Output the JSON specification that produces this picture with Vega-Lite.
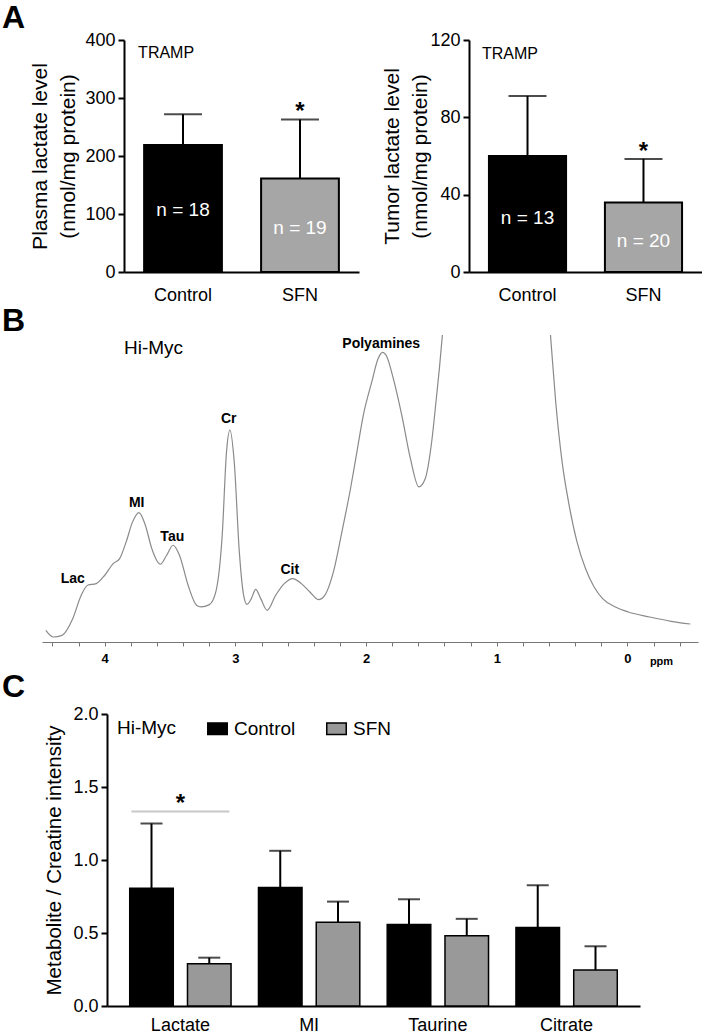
{
"$schema":"https://vega.github.io/schema/vega-lite/v6.json",
"background":"white",
"padding":{"left":2,"top":2,"right":0,"bottom":0},
"config":{
 "font":"Liberation Sans",
 "view":{"stroke":null},
 "axis":{"labelFont":"Liberation Sans","titleFont":"Liberation Sans","labelColor":"black","titleColor":"black","domainColor":"black","tickColor":"black","grid":false,"titleFontWeight":"normal"},
 "legend":{"labelFont":"Liberation Sans","titleFont":"Liberation Sans","labelColor":"black","titleColor":"black"},
 "title":{"font":"Liberation Sans","color":"black"}
},
"spacing":5,
"resolve":{"scale":{"color":"independent"},"legend":{"color":"independent"}},
"vconcat":[
 {"spacing":1,
  "resolve":{"scale":{"color":"independent"},"legend":{"color":"independent"}},
  "vconcat":[
  {"spacing":0,"bounds":"flush",
   "resolve":{"scale":{"color":"independent"},"legend":{"color":"independent"}},
   "hconcat":[
   {"width":82,"height":1,"data":{"values":[{}]},"mark":{"type":"point","opacity":0}},
   {"spacing":110,"bounds":"flush","hconcat":[
   {
    "width":235,"height":232,
    "title":{"text":"A","anchor":"start","frame":"group","dx":-122,"fontSize":32,"fontWeight":"bold","baseline":"alphabetic","offset":-29},
    "data":{"values":[
     {"group":"Control","value":219,"hi":272,"n":"n = 18","ny":107,"star":""},
     {"group":"SFN","value":161,"hi":263,"n":"n = 19","ny":76,"star":"*"}
    ]},
    "encoding":{"x":{"field":"group","type":"nominal","scale":{"domain":["Control","SFN"],"paddingInner":0.335,"paddingOuter":0.172},
      "axis":{"title":null,"labelAngle":0,"labelFontSize":18,"ticks":false,"tickSize":0,"domainWidth":2,"labelPadding":14}}},
    "layer":[
     {"mark":{"type":"bar","stroke":"black","strokeWidth":2},
      "encoding":{"y":{"field":"value","type":"quantitative","scale":{"domain":[0,400],"nice":false},
        "axis":{"title":["Plasma lactate level","(nmol/mg protein)"],"titleFontSize":21,"titleLineHeight":28,"titlePadding":6,"values":[0,100,200,300,400],"labelFontSize":18,"tickSize":6,"tickWidth":2,"domainWidth":2,"labelPadding":3}},
       "color":{"field":"group","type":"nominal","scale":{"domain":["Control","SFN"],"range":["#000000","#a6a6a6"]},"legend":null}}},
     {"mark":{"type":"rule","color":"black","strokeWidth":2},
      "encoding":{"y":{"field":"value","type":"quantitative"},"y2":{"field":"hi"}}},
     {"mark":{"type":"tick","color":"black","thickness":2,"size":38},
      "encoding":{"y":{"field":"hi","type":"quantitative"}}},
     {"mark":{"type":"text","color":"white","fontSize":19,"baseline":"middle"},
      "encoding":{"y":{"field":"ny","type":"quantitative"},"text":{"field":"n"}}},
     {"mark":{"type":"text","color":"black","fontSize":24,"fontWeight":"bold","baseline":"alphabetic"},
      "encoding":{"y":{"field":"hi","type":"quantitative"},"text":{"field":"star"}}},
     {"data":{"values":[{"group":"Control","label":"TRAMP","ty":378}]},
      "mark":{"type":"text","color":"black","align":"left","fontSize":16,"baseline":"middle","dx":-6},
      "encoding":{"x":{"field":"group","type":"nominal","bandPosition":0},"y":{"field":"ty","type":"quantitative"},"text":{"field":"label"}}}
    ]
   },
   {
    "width":233,"height":232,
    "data":{"values":[
     {"group":"Control","value":60,"hi":91,"n":"n = 13","ny":28,"star":""},
     {"group":"SFN","value":36,"hi":58.5,"n":"n = 20","ny":16,"star":"*"}
    ]},
    "encoding":{"x":{"field":"group","type":"nominal","scale":{"domain":["Control","SFN"],"paddingInner":0.335,"paddingOuter":0.172},
      "axis":{"title":null,"labelAngle":0,"labelFontSize":18,"ticks":false,"tickSize":0,"domainWidth":2,"labelPadding":14}}},
    "layer":[
     {"mark":{"type":"bar","stroke":"black","strokeWidth":2},
      "encoding":{"y":{"field":"value","type":"quantitative","scale":{"domain":[0,120],"nice":false},
        "axis":{"title":["Tumor lactate level","(nmol/mg protein)"],"titleFontSize":21,"titleLineHeight":28,"titlePadding":-1,"values":[0,40,80,120],"labelFontSize":18,"tickSize":6,"tickWidth":2,"domainWidth":2,"labelPadding":3}},
       "color":{"field":"group","type":"nominal","scale":{"domain":["Control","SFN"],"range":["#000000","#a6a6a6"]},"legend":null}}},
     {"mark":{"type":"rule","color":"black","strokeWidth":2},
      "encoding":{"y":{"field":"value","type":"quantitative"},"y2":{"field":"hi"}}},
     {"mark":{"type":"tick","color":"black","thickness":2,"size":38},
      "encoding":{"y":{"field":"hi","type":"quantitative"}}},
     {"mark":{"type":"text","color":"white","fontSize":19,"baseline":"middle"},
      "encoding":{"y":{"field":"ny","type":"quantitative"},"text":{"field":"n"}}},
     {"mark":{"type":"text","color":"black","fontSize":24,"fontWeight":"bold","baseline":"alphabetic"},
      "encoding":{"y":{"field":"hi","type":"quantitative"},"text":{"field":"star"}}},
     {"data":{"values":[{"group":"Control","label":"TRAMP","ty":113}]},
      "mark":{"type":"text","color":"black","align":"left","fontSize":16,"baseline":"middle","dx":-7},
      "encoding":{"x":{"field":"group","type":"nominal","bandPosition":0},"y":{"field":"ty","type":"quantitative"},"text":{"field":"label"}}}
    ]
   }
   ]}
  ]},
  {
   "width":656,"height":307,
   "title":{"text":"B","anchor":"start","frame":"group","dx":-40,"fontSize":32,"fontWeight":"bold","baseline":"alphabetic","offset":-28},
   "layer":[
    {"data":{"values":[
      {"ppm":4.451,"v":35},{"ppm":4.392,"v":15},{"ppm":4.327,"v":20},{"ppm":4.245,"v":70},{"ppm":4.180,"v":140},{"ppm":4.131,"v":170},{"ppm":4.065,"v":175},{"ppm":4.000,"v":200},{"ppm":3.935,"v":235},{"ppm":3.886,"v":250},{"ppm":3.836,"v":300},{"ppm":3.787,"v":360},{"ppm":3.738,"v":388},{"ppm":3.689,"v":350},{"ppm":3.640,"v":280},{"ppm":3.575,"v":233},{"ppm":3.526,"v":260},{"ppm":3.477,"v":290},{"ppm":3.428,"v":260},{"ppm":3.362,"v":170},{"ppm":3.297,"v":110},{"ppm":3.264,"v":105},{"ppm":3.199,"v":112},{"ppm":3.150,"v":150},{"ppm":3.101,"v":320},{"ppm":3.068,"v":570},{"ppm":3.042,"v":635},{"ppm":3.009,"v":540},{"ppm":2.970,"v":270},{"ppm":2.937,"v":140},{"ppm":2.911,"v":113},{"ppm":2.878,"v":130},{"ppm":2.845,"v":158},{"ppm":2.806,"v":130},{"ppm":2.757,"v":95},{"ppm":2.692,"v":140},{"ppm":2.626,"v":175},{"ppm":2.561,"v":190},{"ppm":2.495,"v":175},{"ppm":2.430,"v":150},{"ppm":2.365,"v":127},{"ppm":2.316,"v":140},{"ppm":2.250,"v":210},{"ppm":2.185,"v":330},{"ppm":2.119,"v":460},{"ppm":2.070,"v":570},{"ppm":2.021,"v":680},{"ppm":1.956,"v":780},{"ppm":1.907,"v":850},{"ppm":1.874,"v":868},{"ppm":1.841,"v":855},{"ppm":1.792,"v":790},{"ppm":1.727,"v":680},{"ppm":1.661,"v":550},{"ppm":1.596,"v":465},{"ppm":1.547,"v":490},{"ppm":1.498,"v":600},{"ppm":1.465,"v":720},{"ppm":1.439,"v":820},{"ppm":1.416,"v":920},{"ppm":1.383,"v":1100},{"ppm":1.0,"v":3000},{"ppm":0.631,"v":1100},{"ppm":0.589,"v":920},{"ppm":0.549,"v":720},{"ppm":0.500,"v":540},{"ppm":0.451,"v":420},{"ppm":0.386,"v":300},{"ppm":0.321,"v":220},{"ppm":0.255,"v":165},{"ppm":0.190,"v":130},{"ppm":0.092,"v":105},{"ppm":-0.007,"v":90},{"ppm":-0.170,"v":75},{"ppm":-0.334,"v":62},{"ppm":-0.481,"v":54}
     ]},
     "mark":{"type":"line","color":"#8a8a8a","strokeWidth":1.2,"interpolate":"monotone","clip":true},
     "encoding":{
      "x":{"field":"ppm","type":"quantitative","scale":{"domain":[-0.54,4.48],"reverse":true,"nice":false,"zero":false},
       "axis":{"title":"ppm","titleFontSize":11,"titleFontWeight":"bold","titleX":619,"titleY":19,"titleBaseline":"middle","titleAlign":"center",
        "values":[4.4,4.2,4,3.8,3.6,3.4,3.2,3,2.8,2.6,2.4,2.2,2,1.8,1.6,1.4,1.2,1,0.8,0.6,0.4,0.2,0,-0.2,-0.4],
        "tickCount":100,
        "labelExpr":"abs(datum.value - round(datum.value)) < 0.001 ? ('' + round(datum.value)) : ''",
        "labelFontSize":13,"labelFontWeight":"bold","tickSize":4,"tickColor":"#777777","domainColor":"#777777","domainWidth":1.2,"labelPadding":6,"labelFlush":false,"labelOverlap":false}},
      "y":{"field":"v","type":"quantitative","scale":{"domain":[0,920],"nice":false,"zero":false},"axis":{"title":null,"labels":false,"ticks":false,"domain":false}}}},
    {"data":{"values":[
      {"ppm":4.245,"v":190,"label":"Lac"},{"ppm":3.755,"v":417,"label":"MI"},{"ppm":3.483,"v":315,"label":"Tau"},{"ppm":3.051,"v":668,"label":"Cr"},{"ppm":2.584,"v":215,"label":"Cit"},{"ppm":1.884,"v":892,"label":"Polyamines"}
     ]},
     "mark":{"type":"text","color":"black","fontSize":14,"fontWeight":"bold","baseline":"middle"},
     "encoding":{"x":{"field":"ppm","type":"quantitative"},"y":{"field":"v","type":"quantitative"},"text":{"field":"label"}}},
    {"data":{"values":[{"ppm":3.853,"v":880,"label":"Hi-Myc"}]},
     "mark":{"type":"text","color":"black","fontSize":19,"align":"left","baseline":"middle"},
     "encoding":{"x":{"field":"ppm","type":"quantitative"},"y":{"field":"v","type":"quantitative"},"text":{"field":"label"}}}
   ]
  }
 ]},
 {"spacing":0,"bounds":"flush",
  "resolve":{"scale":{"color":"independent"},"legend":{"color":"independent"}},
  "hconcat":[
  {"width":65,"height":1,"data":{"values":[{}]},"mark":{"type":"point","opacity":0}},
  {
  "width":533,"height":292,
  "title":{"text":"C","anchor":"start","frame":"group","dx":-105,"fontSize":32,"fontWeight":"bold","baseline":"alphabetic","offset":-24},
  "data":{"values":[
   {"metabolite":"Lactate","group":"Control","value":0.807,"hi":1.250},
   {"metabolite":"Lactate","group":"SFN","value":0.290,"hi":0.331},
   {"metabolite":"MI","group":"Control","value":0.811,"hi":1.063},
   {"metabolite":"MI","group":"SFN","value":0.574,"hi":0.715},
   {"metabolite":"Taurine","group":"Control","value":0.558,"hi":0.731},
   {"metabolite":"Taurine","group":"SFN","value":0.482,"hi":0.597},
   {"metabolite":"Citrate","group":"Control","value":0.537,"hi":0.827},
   {"metabolite":"Citrate","group":"SFN","value":0.247,"hi":0.409}
  ]},
  "encoding":{"x":{"field":"metabolite","type":"nominal","scale":{"domain":["Lactate","MI","Taurine","Citrate"],"paddingInner":0.213,"paddingOuter":0.1765},
    "axis":{"title":null,"labelAngle":0,"labelFontSize":18,"ticks":false,"tickSize":0,"domainWidth":2,"labelPadding":10}}},
  "layer":[
   {"mark":{"type":"bar","stroke":"black","strokeWidth":1.5},
    "encoding":{
     "xOffset":{"field":"group","type":"nominal","scale":{"domain":["Control","SFN"],"paddingInner":0.246,"paddingOuter":0}},
     "y":{"field":"value","type":"quantitative","scale":{"domain":[0,2],"nice":false},
      "axis":{"title":"Metabolite / Creatine intensity","titleFontSize":20.5,"titlePadding":8,"values":[0,0.5,1,1.5,2],"format":".1f","labelFontSize":18,"tickSize":6,"tickWidth":2,"domainWidth":2,"labelPadding":3}},
     "color":{"field":"group","type":"nominal","scale":{"domain":["Control","SFN"],"range":["#000000","#999999"]},
      "legend":{"title":"Hi-Myc","orient":"none","legendX":10,"legendY":4,"direction":"horizontal","titleOrient":"left","titleFontSize":19,"titleFontWeight":"normal","titlePadding":30,"labelFontSize":19,"labelOffset":6,"columnPadding":27,"symbolSize":380,"symbolType":"M-1,-0.6H1V0.6H-1Z","symbolStrokeColor":"black","symbolStrokeWidth":1.5}}}},
   {"mark":{"type":"rule","color":"black","strokeWidth":2},
    "encoding":{"xOffset":{"field":"group","type":"nominal"},"y":{"field":"value","type":"quantitative"},"y2":{"field":"hi"}}},
   {"mark":{"type":"tick","color":"black","thickness":2,"size":22},
    "encoding":{"xOffset":{"field":"group","type":"nominal"},"y":{"field":"hi","type":"quantitative"}}},
   {"data":{"values":[{"metabolite":"Lactate","sig":1.333,"star":"*"}]},
    "mark":{"type":"tick","color":"#b0b0b0","thickness":2,"size":98},
    "encoding":{"y":{"field":"sig","type":"quantitative"}}},
   {"data":{"values":[{"metabolite":"Lactate","sig":1.333,"star":"*"}]},
    "mark":{"type":"text","color":"black","fontSize":24,"fontWeight":"bold","baseline":"alphabetic"},
    "encoding":{"y":{"field":"sig","type":"quantitative"},"text":{"field":"star"}}}
  ]
  }
 ]}
]
}
